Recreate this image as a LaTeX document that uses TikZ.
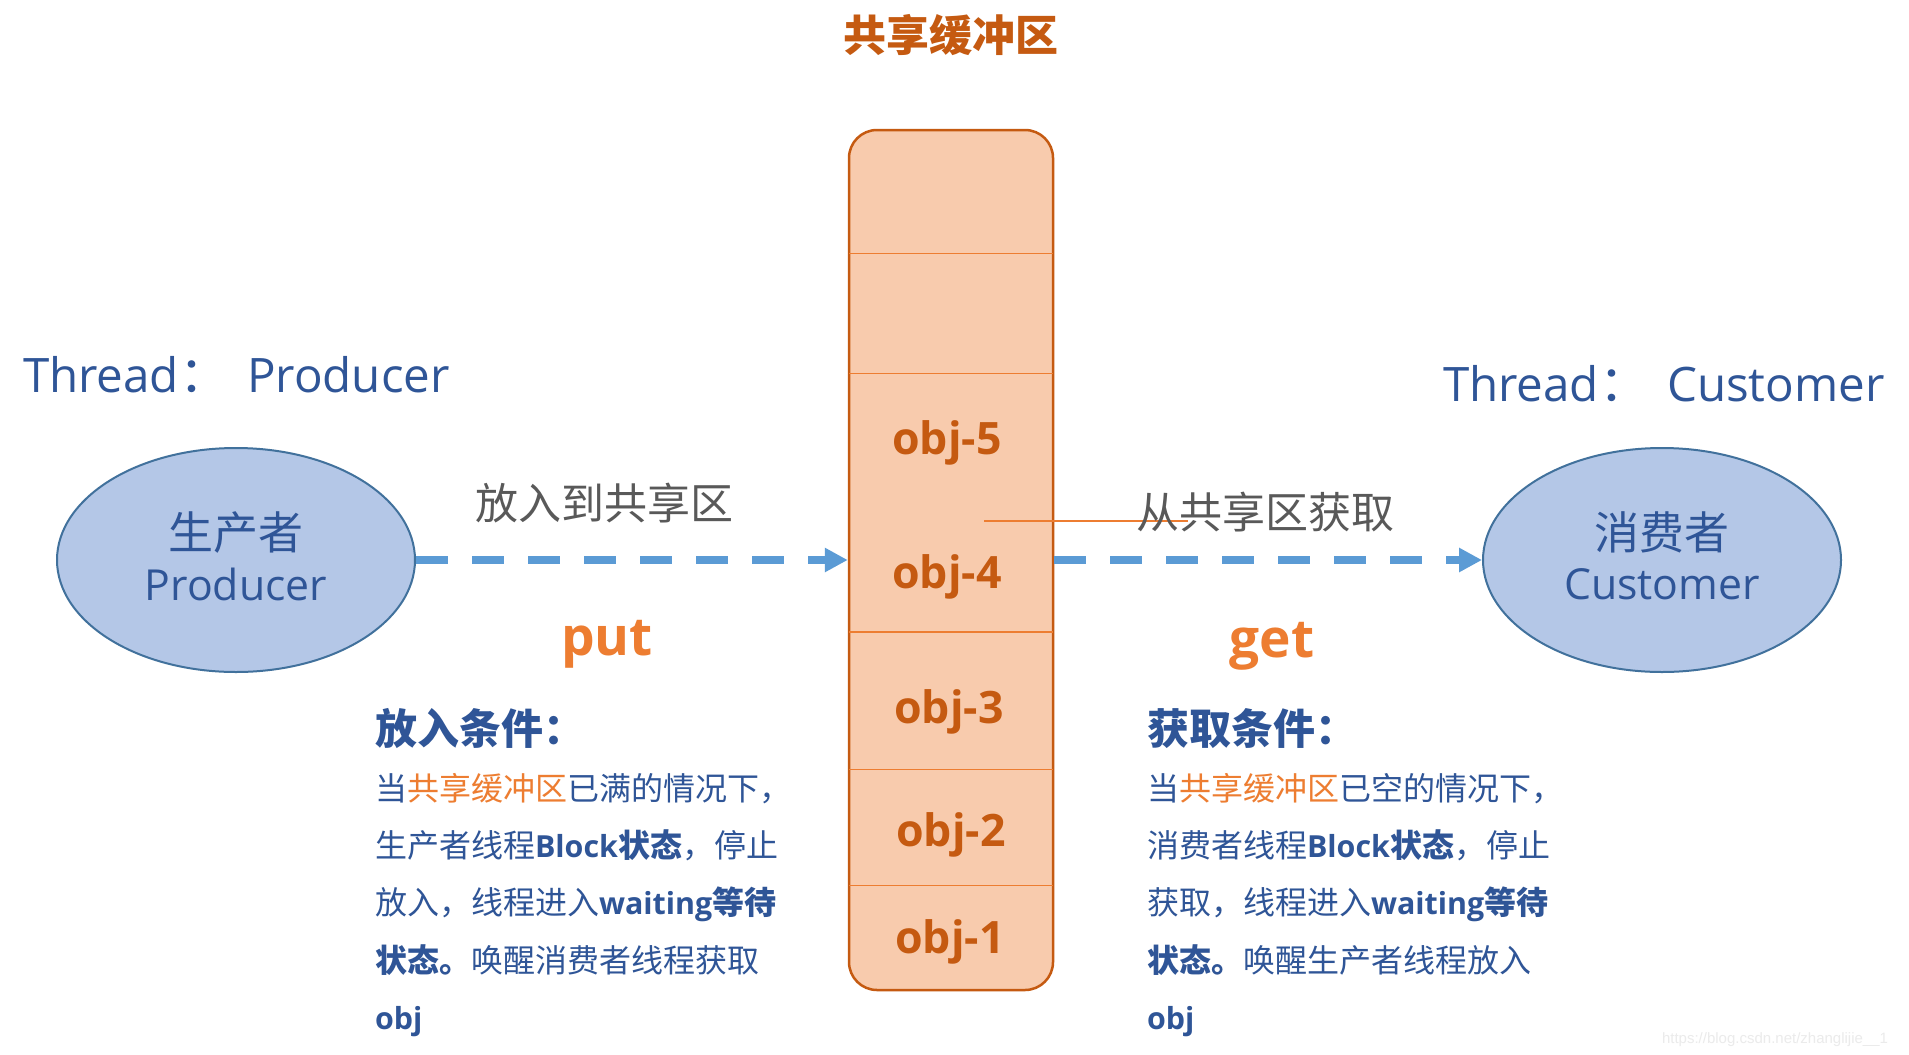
\documentclass[tikz,border=0pt]{standalone}
\usepackage{fontspec}
\setmainfont{Open Sans}[Scale=0.95]
\newfontfamily\cjk{Noto Sans CJK SC}
\newfontfamily\wmfont{Liberation Sans}
\usetikzlibrary{shapes.geometric,arrows.meta}
\definecolor{txtblue}{HTML}{2F5597}
\definecolor{ellfill}{HTML}{B4C7E7}
\definecolor{elldraw}{HTML}{41719C}
\definecolor{buffill}{HTML}{F8CBAD}
\definecolor{bufdraw}{HTML}{C55A11}
\definecolor{orn}{HTML}{ED7D31}
\definecolor{arrblue}{HTML}{5B9BD5}
\definecolor{graytxt}{HTML}{595959}
\newcommand\zh[1]{{\cjk #1}}
\newcommand\zhb[1]{{\cjk\bfseries #1}}
\newcommand\enb[1]{{\bfseries #1}}
\newcommand\fsz[1]{\fontsize{#1}{#1}\selectfont}
\tikzset{
  txt/.style={inner sep=0pt, outer sep=0pt},
  thread/.style={txt, anchor=base west, text=txtblue, font=\fsz{25}},
  ellnode/.style={ellipse, draw=elldraw, line width=1pt, fill=ellfill, minimum width=179pt, minimum height=112pt, inner sep=0pt},
  elltxt/.style={txt, anchor=base, text=txtblue, font=\fsz{22.5}},
  objtxt/.style={txt, anchor=base, text=bufdraw, font=\fsz{23.5}\bfseries},
  divider/.style={draw=orn, line width=0.75pt},
  flow/.style={draw=arrblue, line width=4pt, dash pattern=on 16pt off 12pt, -{Triangle[length=11.5pt, width=11.5pt]}},
  arrlabel/.style={txt, anchor=center, text=graytxt, font=\fsz{21.5}\cjk},
  opname/.style={txt, anchor=base, text=orn, font=\fsz{28}\bfseries},
  cond/.style={txt, anchor=base west, text=txtblue, font=\fsz{16}},
  condhead/.style={txt, anchor=base west, text=txtblue, font=\fsz{21}\cjk\bfseries},
}
\begin{document}
\begin{tikzpicture}[x=0.5pt, y=-0.5pt]
\fill[white] (0,0) rectangle (1909,1054);
\useasboundingbox (0,0) rectangle (1909,1054);

% title
\node[txt, anchor=center, text=bufdraw, font=\fsz{21.5}\cjk\bfseries] (title) at (951,35) {共享缓冲区};

% thread labels
\node[thread] (thprod) at (23,392) {Thread\zh{：}\hspace{9pt}Producer};
\node[thread] (thcons) at (1443,401) {Thread\zh{：}\hspace{9pt}Customer};

% buffer
\node[draw=bufdraw, line width=1.25pt, fill=buffill, rounded corners=14pt, minimum width=102pt, minimum height=430pt, inner sep=0pt] (buf) at (951,560) {};
\draw[divider] (849,253.6) -- (1053,253.6);
\draw[divider] (849,373.7) -- (1053,373.7);
\draw[divider] (849,632.2) -- (1053,632.2);
\draw[divider] (849,769.7) -- (1053,769.7);
\draw[divider] (849,885.3) -- (1053,885.3);
\node[objtxt] (o5) at (947,454) {obj-5};
\node[objtxt] (o4) at (947,588) {obj-4};
\node[objtxt] (o3) at (949,723) {obj-3};
\node[objtxt] (o2) at (951,846.5) {obj-2};
\node[objtxt] (o1) at (950,953) {obj-1};

% ellipses
\node[ellnode] (prod) at (236,560) {};
\node[elltxt] (prodzh) at (236,549) {\zh{生产者}};
\node[elltxt] (proden) at (236,600) {Producer};
\node[ellnode] (cons) at (1662,560) {};
\node[elltxt] (conszh) at (1662,549) {\zh{消费者}};
\node[elltxt] (consen) at (1662,599) {Customer};

% arrows
\draw[flow] (prod.east) -- (buf.west);
\draw[flow] (buf.east) -- (cons.west);

% thin orange line
\coordinate (tl1) at (984,521);
\coordinate (tl2) at (1188,521);
\draw[divider] (tl1) -- (tl2);

% arrow labels
\node[arrlabel] (putlbl) at (604,503) {放入到共享区};
\node[arrlabel] (getlbl) at (1265,512) {从共享区获取};
\node[opname] (put) at (607,655) {put};
\node[opname] (get) at (1272,657) {get};

% left conditions
\node[condhead] (lh) at (375,744) {放入条件：};
\node[cond] (l1) at (375,800) {\zh{当}{\color{orn}\zh{共享缓冲区}}\zh{已满的情况下，}};
\node[cond] (l2) at (375,857) {\zh{生产者线程}\enb{Block}\zhb{状态}\zh{，停止}};
\node[cond] (l3) at (375,914) {\zh{放入，线程进入}\enb{waiting}\zhb{等待}};
\node[cond] (l4) at (375,972) {\zhb{状态。}\zh{唤醒消费者线程获取}};
\node[cond] (l5) at (375,1029) {\enb{obj}};

% right conditions
\node[condhead] (rh) at (1147,744) {获取条件：};
\node[cond] (r1) at (1147,800) {\zh{当}{\color{orn}\zh{共享缓冲区}}\zh{已空的情况下，}};
\node[cond] (r2) at (1147,857) {\zh{消费者线程}\enb{Block}\zhb{状态}\zh{，停止}};
\node[cond] (r3) at (1147,914) {\zh{获取，线程进入}\enb{waiting}\zhb{等待}};
\node[cond] (r4) at (1147,972) {\zhb{状态。}\zh{唤醒生产者线程放入}};
\node[cond] (r5) at (1147,1029) {\enb{obj}};

% watermark
\node[txt, anchor=base west, text=black!8, font=\wmfont\fsz{7.5}] (wm) at (1662,1043) {https://blog.csdn.net/zhanglijie\_\_1};
\end{tikzpicture}
\end{document}
